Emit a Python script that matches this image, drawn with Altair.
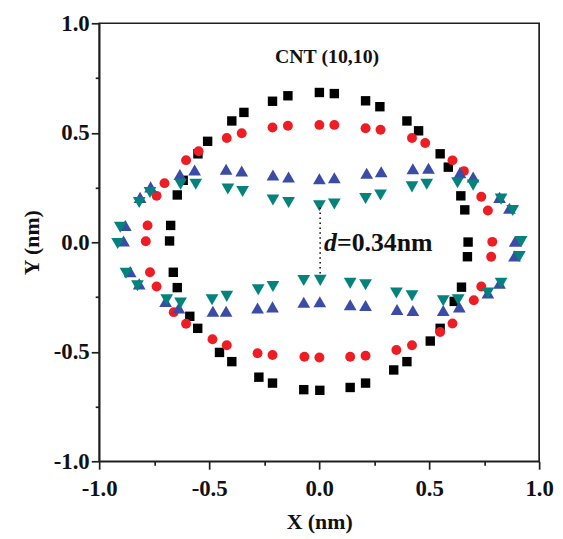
import altair as alt
import pandas as pd

# Black squares
sq_x = [-0.675, -0.645, -0.618, -0.551, -0.507, -0.397, -0.342, -0.212, -0.142, 0.001,
        0.069, 0.211, 0.276, 0.399, 0.452, 0.550, 0.587, 0.644, 0.662, 0.677,
        0.674, 0.647, 0.614, 0.550, 0.505, 0.399, 0.339, 0.211, 0.141, 0.003,
        -0.070, -0.212, -0.274, -0.397, -0.453, -0.552, -0.588, -0.645, -0.663, -0.680]
sq_y = [0.077, 0.216, 0.283, 0.404, 0.461, 0.554, 0.593, 0.644, 0.669, 0.684,
        0.679, 0.646, 0.619, 0.554, 0.509, 0.404, 0.343, 0.212, 0.148, 0.001,
        -0.066, -0.205, -0.270, -0.393, -0.451, -0.545, -0.583, -0.643, -0.663, -0.676,
        -0.673, -0.643, -0.616, -0.545, -0.503, -0.393, -0.338, -0.207, -0.137, 0.006]

# Red circles
ci_x = [-0.788, -0.780, -0.739, -0.703, -0.605, -0.548, -0.420, -0.352, -0.212, -0.142,
        0.001, 0.069, 0.211, 0.279, 0.422, 0.482, 0.606, 0.658, 0.737, 0.767,
        0.787, 0.782, 0.737, 0.703, 0.606, 0.550, 0.422, 0.351, 0.211, 0.141,
        0.001, -0.067, -0.212, -0.280, -0.420, -0.485, -0.605, -0.661, -0.739, -0.769]
ci_y = [0.005, 0.077, 0.212, 0.270, 0.375, 0.416, 0.476, 0.498, 0.524, 0.532,
        0.536, 0.536, 0.521, 0.514, 0.476, 0.453, 0.374, 0.325, 0.208, 0.145,
        0.002, -0.066, -0.202, -0.265, -0.371, -0.410, -0.470, -0.492, -0.518, -0.523,
        -0.526, -0.523, -0.515, -0.507, -0.470, -0.443, -0.372, -0.319, -0.202, -0.137]

# Blue up-triangles
tu_x = [-0.889, -0.881, -0.814, -0.766, -0.633, -0.566, -0.423, -0.352, -0.210, -0.139,
        0.001, 0.069, 0.216, 0.282, 0.426, 0.497, 0.640, 0.700, 0.820, 0.865,
        0.891, 0.888, 0.820, 0.767, 0.637, 0.564, 0.426, 0.354, 0.211, 0.141,
        0.003, -0.070, -0.212, -0.280, -0.423, -0.483, -0.638, -0.698, -0.818, -0.859]
tu_y = [0.006, 0.077, 0.205, 0.253, 0.310, 0.330, 0.333, 0.325, 0.307, 0.298,
        0.290, 0.295, 0.315, 0.322, 0.336, 0.338, 0.318, 0.298, 0.205, 0.155,
        0.005, -0.063, -0.187, -0.232, -0.295, -0.312, -0.312, -0.307, -0.289, -0.285,
        -0.272, -0.274, -0.295, -0.300, -0.315, -0.315, -0.300, -0.270, -0.190, -0.134]

# Teal down-triangles
td_x = [-0.916, -0.904, -0.818, -0.769, -0.630, -0.561, -0.415, -0.348, -0.210, -0.139,
        0.001, 0.069, 0.211, 0.279, 0.422, 0.489, 0.629, 0.700, 0.827, 0.880,
        0.918, 0.910, 0.827, 0.767, 0.632, 0.564, 0.422, 0.351, 0.211, 0.141,
        0.005, -0.070, -0.210, -0.277, -0.420, -0.487, -0.630, -0.693, -0.826, -0.878]
td_y = [-0.006, 0.069, 0.182, 0.227, 0.265, 0.265, 0.243, 0.232, 0.193, 0.182,
        0.167, 0.175, 0.200, 0.216, 0.253, 0.265, 0.272, 0.261, 0.197, 0.145,
        0.003, -0.065, -0.187, -0.232, -0.262, -0.267, -0.244, -0.232, -0.194, -0.187,
        -0.174, -0.175, -0.202, -0.217, -0.247, -0.262, -0.277, -0.262, -0.199, -0.141]

tick_values = [-1.0, -0.75, -0.5, -0.25, 0.0, 0.25, 0.5, 0.75, 1.0]

FONT = "Liberation Serif"
LINE = "#1e1e1e"
major = "abs(datum.value*2 - round(datum.value*2)) < 0.001"
label_expr = major + " ? replace(format(datum.value, '.1f'), '\u2212', '-') : ''"
tick_size = {"condition": {"test": major, "value": 8}, "value": 4}

x_enc = alt.X("x:Q", scale=alt.Scale(domain=[-1, 1], nice=False, zero=False),
              axis=alt.Axis(values=tick_values, title="X (nm)", labelExpr=label_expr,
                            tickSize=tick_size, grid=False, labelPadding=9,
                            titlePadding=11, labelFlush=False))
y_enc = alt.Y("y:Q", scale=alt.Scale(domain=[-1, 1], nice=False, zero=False),
              axis=alt.Axis(values=tick_values, title="Y (nm)", labelExpr=label_expr,
                            tickSize=tick_size, grid=False, labelPadding=2,
                            titlePadding=10, labelFlush=False))


def series(xs, ys, shape, color, size):
    df = pd.DataFrame({"x": xs, "y": ys})
    return alt.Chart(df).mark_point(filled=True, opacity=1, shape=shape, color=color,
                                    size=size, strokeWidth=0).encode(x=x_enc, y=y_enc)


squares = series(sq_x, sq_y, "square", "#000000", 90)
circles = series(ci_x, ci_y, "circle", "#ee1d23", 100)
ups = series(tu_x, tu_y, "triangle-up", "#3a4ca6", 165)
downs = series(td_x, td_y, "triangle-down", "#04827c", 165)

title_txt = alt.Chart(pd.DataFrame({"t": ["CNT (10,10)"]})).mark_text(
    font=FONT, fontSize=20, fontWeight="bold", color="#111", align="center", baseline="middle"
).encode(text="t:N", x=alt.value(230), y=alt.value(34))

d_txt = alt.Chart(pd.DataFrame({"t": ["d"]})).mark_text(
    font=FONT, fontSize=26, fontWeight="bold", fontStyle="italic", color="#111",
    align="left", baseline="middle"
).encode(text="t:N", x=alt.value(227), y=alt.value(222))

val_txt = alt.Chart(pd.DataFrame({"t": ["=0.34nm"]})).mark_text(
    font=FONT, fontSize=26, fontWeight="bold", color="#111",
    align="left", baseline="middle"
).encode(text="t:N", x=alt.value(240), y=alt.value(222))

dotted = alt.Chart(pd.DataFrame({"a": [0]})).mark_rule(
    color="#111", strokeWidth=1.6, strokeDash=[1.5, 3.5]
).encode(x=alt.value(223), y=alt.value(186), y2=alt.value(254))

chart = alt.layer(squares, circles, ups, downs, dotted, title_txt, d_txt, val_txt).properties(
    width=444, height=442,
    autosize=alt.AutoSizeParams(type="none"),
    padding={"left": 92, "top": 13, "right": 16, "bottom": 74},
).configure_view(
    stroke=LINE, strokeWidth=1.7
).configure_axis(
    domainColor=LINE, domainWidth=1.7, tickColor=LINE, tickWidth=1.7,
    labelFont=FONT, labelFontSize=23, labelFontWeight="bold", labelColor="#111",
    titleFont=FONT, titleFontSize=22, titleFontWeight="bold", titleColor="#111",
)

chart.save("out.html", embed_options={"renderer": "svg", "actions": False})
